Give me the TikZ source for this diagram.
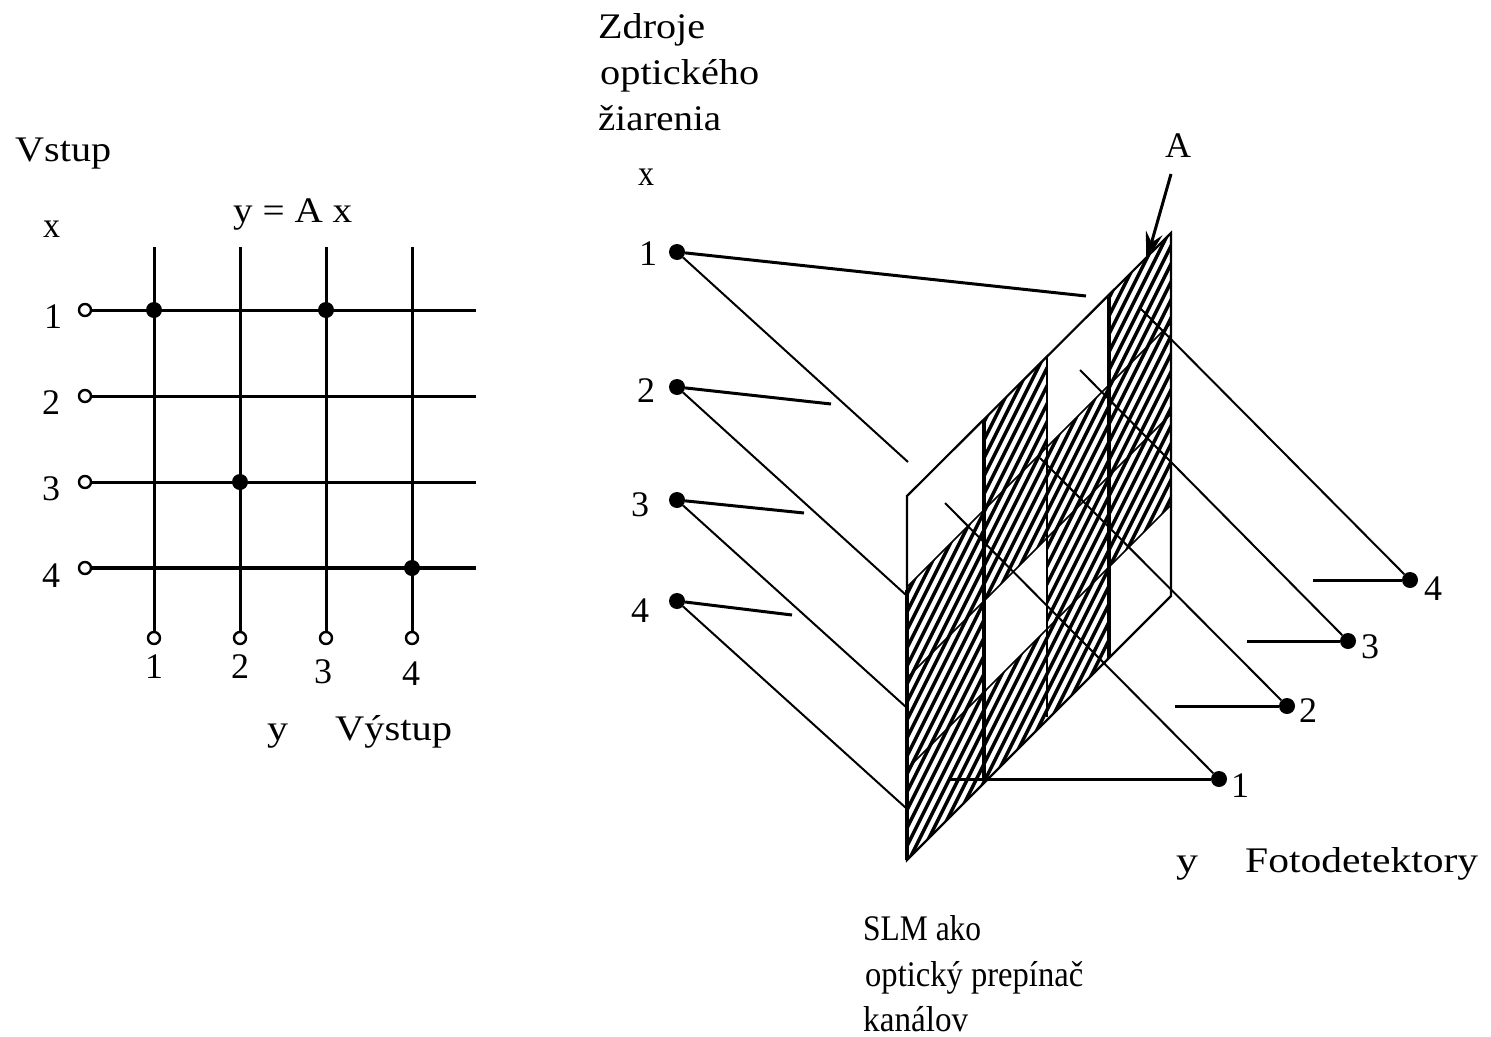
\documentclass[tikz,border=0pt]{standalone}
\usepackage{fontspec}
\setmainfont{Liberation Serif}
\usetikzlibrary{arrows.meta}
\newcommand{\lbl}[5]{\node[txt,anchor=base west] (#1) at (#2,#3) {\resizebox{#4pt}{\height}{#5}};}
\newcommand{\num}[4]{\node[txt,anchor=base] (#1) at (#2,#3) {#4};}
\newcommand{\hcell}[4]{(#1,#3-#1) -- (#2,#3-#2) -- (#2,#4-#2) -- (#1,#4-#1) -- cycle}
\tikzset{
  txt/.style={inner sep=0pt,font=\fontsize{36}{36}\selectfont,text=black},
  hollow/.style={circle,draw=black,fill=white,line width=2.4pt,minimum size=12pt,inner sep=0pt},
  solid dot/.style={circle,fill=black,minimum size=16pt,inner sep=0pt},
  wire/.style={line width=3pt,black},
  ray/.style={line width=2pt,black},
  frameline/.style={line width=2pt,black},
  post/.style={line width=3.2pt,black},
  hatchline/.style={line width=3.4pt,black},
  rowline/.style={line width=1.6pt,black}
}
\begin{document}
\begin{tikzpicture}[x=1pt,y=-1pt]
\useasboundingbox (0,0) rectangle (1491,1036);
\fill[white] (0,0) rectangle (1491,1036);
% ---------- left crossbar ----------
\foreach \i/\y in {1/310,2/396,3/482,4/568} {
  \coordinate (rowend\i) at (476,\y);
  \node[hollow] (in\i) at (85,\y) {};
}
\foreach \j/\x in {1/154,2/240,3/326,4/412} {
  \coordinate (coltop\j) at (\x,247);
  \node[hollow] (out\j) at (\x,638) {};
}
\foreach \i in {1,2,3} \draw[wire] (in\i) -- (rowend\i);
\draw[wire,line width=4pt] (in4) -- (rowend4);
\foreach \j in {1,2,3,4} \draw[wire] (coltop\j) -- (out\j);
\node[solid dot] (m11) at (154,310) {};
\node[solid dot] (m13) at (326,310) {};
\node[solid dot] (m32) at (240,482) {};
\node[solid dot] (m44) at (412,568) {};
\lbl{vstup}{15}{161}{96}{Vstup}
\lbl{xa}{43}{237}{17}{x}
\lbl{eq}{233}{222}{119}{y = A x}
\num{r1}{53}{328}{1}
\num{r2}{51}{414}{2}
\num{r3}{51}{500}{3}
\num{r4}{51}{587}{4}
\num{c1}{154}{678}{1}
\num{c2}{240}{678}{2}
\num{c3}{323}{683}{3}
\num{c4}{411}{685}{4}
\lbl{ya}{267}{740}{21}{y}
\lbl{vystup}{335}{740}{117}{Výstup}
% ---------- SLM hatching ----------
\begin{scope}
\clip \hcell{907}{984}{1494}{1767}
      \hcell{984}{1047}{1403}{1585}
      \hcell{984}{1047}{1676}{1767}
      \hcell{1047}{1109}{1494}{1767}
      \hcell{1109}{1171}{1403}{1676};
\foreach \k in {0,...,90} \draw[hatchline] ({700+9*\k},900) -- ({700+9*\k+350},200);
\foreach \s/\a/\b in {1585/907/984,1676/907/984,1494/984/1047,1585/1047/1109,1676/1047/1109,1494/1109/1171,1585/1109/1171}
  \draw[rowline] (\a,\s-\a) -- (\b,\s-\b);
\end{scope}
% edges of the hatched cells
\foreach \s/\a/\b in {1494/907/984,1585/984/1047,1676/984/1047,1494/1047/1109,1676/1109/1171}
  \draw[rowline] (\a,\s-\a) -- (\b,\s-\b);
% frame
\coordinate (ftl) at (907,496);
\coordinate (ftr) at (1171,233);
\coordinate (fbl) at (907,860);
\coordinate (fbr) at (1171,596);
\coordinate (fml) at (907,590);
\draw[frameline,line width=2.2pt] (fbl) -- (ftl) -- (ftr) -- (fbr) -- cycle;
\draw[post] (fbl) -- (fml);
\foreach \x/\a/\b/\w in {984/420/780/3.2,1047/357/717/2.4,1109/297/658/3.2} {
  \coordinate (pt\x) at (\x,\a);
  \coordinate (pb\x) at (\x,\b);
  \draw[post,line width=\w pt] (pt\x) -- (pb\x);
}
% ---------- sources ----------
\node[solid dot] (s1) at (677,252) {};
\node[solid dot] (s2) at (677,387) {};
\node[solid dot] (s3) at (677,500) {};
\node[solid dot] (s4) at (677,601) {};
\coordinate (s1a) at (1086,296); \coordinate (s1b) at (908,462);
\coordinate (s2a) at (831,404);  \coordinate (s2b) at (906,595);
\coordinate (s3a) at (804,513);  \coordinate (s3b) at (906,707);
\coordinate (s4a) at (792,615);  \coordinate (s4b) at (906,808);
\foreach \i in {1,2,3,4} {
  \draw[wire] (s\i) -- (s\i a);
  \draw[ray] (s\i) -- (s\i b);
}
% ---------- detectors ----------
\node[solid dot] (d1) at (1219,779) {};
\node[solid dot] (d2) at (1287,706) {};
\node[solid dot] (d3) at (1348,641) {};
\node[solid dot] (d4) at (1410,580) {};
\coordinate (d1a) at (948,779);  \coordinate (d1b) at (945,503);
\coordinate (d2a) at (1175,706); \coordinate (d2b) at (1040,458);
\coordinate (d3a) at (1247,641); \coordinate (d3b) at (1080,370);
\coordinate (d4a) at (1313,580); \coordinate (d4b) at (1140,308);
\foreach \i in {1,2,3,4} {
  \draw[wire] (d\i a) -- (d\i);
  \draw[ray] (d\i b) -- (d\i);
}
% ---------- arrow A ----------
\coordinate (atail) at (1171,174);
\coordinate (ahead) at (1146,262);
\draw[wire,-{Stealth[length=30pt,width=17pt]}] (atail) -- (ahead);
% ---------- right labels ----------
\lbl{zd}{598}{38}{107}{Zdroje}
\lbl{op}{600}{84}{159}{optického}
\lbl{zi}{598}{130}{123}{žiarenia}
\lbl{xb}{638}{185}{16}{x}
\num{sn1}{648}{265}{1}
\num{sn2}{646}{402}{2}
\num{sn3}{640}{516}{3}
\num{sn4}{640}{622}{4}
\num{dn1}{1240}{797}{1}
\num{dn2}{1308}{722}{2}
\num{dn3}{1370}{658}{3}
\num{dn4}{1433}{600}{4}
\num{aa}{1178}{157}{A}
\lbl{yb}{1176}{872}{22}{y}
\lbl{foto}{1245}{872}{233}{Fotodetektory}
\lbl{slm}{863}{940}{118}{SLM ako}
\lbl{opt}{865}{986}{218}{optický prepínač}
\lbl{kan}{863}{1031}{105}{kanálov}
\end{tikzpicture}
\end{document}
